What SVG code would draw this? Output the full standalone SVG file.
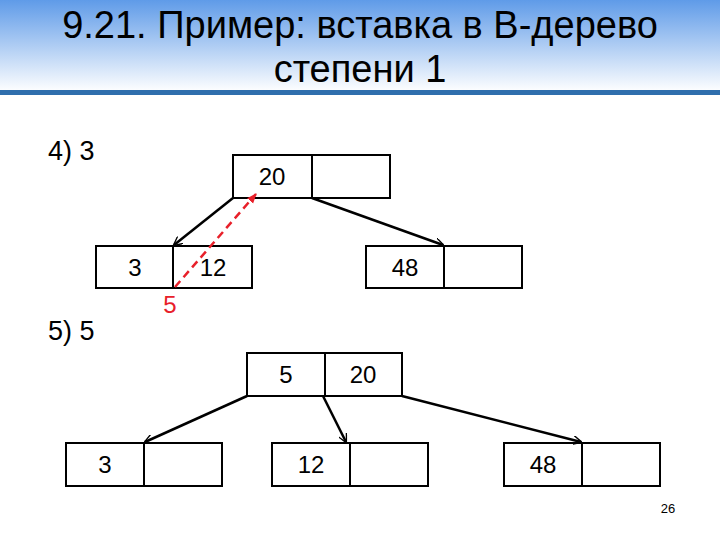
<svg xmlns="http://www.w3.org/2000/svg" width="720" height="540" viewBox="0 0 720 540">
<defs>
<linearGradient id="hg" x1="0" y1="0" x2="0" y2="1"><stop offset="0" stop-color="#5f9be8"/><stop offset="1" stop-color="#ffffff"/></linearGradient>
<marker id="ah" viewBox="0 0 10 10" refX="9" refY="5" markerWidth="9" markerHeight="9" orient="auto" markerUnits="userSpaceOnUse"><path d="M0,0 L10,5 L0,10" fill="none" stroke="#000" stroke-width="1.5"/></marker>
<marker id="rh" viewBox="0 0 10 10" refX="9" refY="5" markerWidth="10" markerHeight="10" orient="auto" markerUnits="userSpaceOnUse"><path d="M0,1 L10,5 L0,9 Z" fill="#e8202a"/></marker>
</defs>
<style>
.n{fill:#fff;stroke:#000;stroke-width:2}
.t{font-family:"Liberation Sans",Arial,sans-serif;font-size:24px;fill:#000;text-anchor:middle}
.e{stroke:#000;stroke-width:2.5;fill:none;marker-end:url(#ah)}
</style>
<rect width="720" height="540" fill="#fff"/>
<rect width="720" height="92" fill="url(#hg)"/>
<rect y="90" width="720" height="5" fill="#2f6fad"/>
<text x="360" y="38" class="t" style="font-size:38px">9.21. Пример: вставка в В-дерево</text>
<text x="360" y="82" class="t" style="font-size:38px">степени 1</text>
<text x="48" y="160" class="t" style="font-size:27px;text-anchor:start">4) 3</text>
<text x="48" y="340" class="t" style="font-size:27px;text-anchor:start">5) 5</text>
<g id="n20"><rect class="n" x="233" y="155" width="157" height="43"/><line x1="312" y1="155" x2="312" y2="198" stroke="#000" stroke-width="2"/><text class="t" x="272" y="185">20</text></g>
<g id="n3_12"><rect class="n" x="96" y="246" width="156" height="42"/><line x1="173" y1="246" x2="173" y2="288" stroke="#000" stroke-width="2"/><text class="t" x="135" y="276">3</text><text class="t" x="213" y="276">12</text></g>
<g id="n48a"><rect class="n" x="366" y="246" width="156" height="42"/><line x1="444" y1="246" x2="444" y2="288" stroke="#000" stroke-width="2"/><text class="t" x="405" y="276">48</text></g>
<g id="n5_20"><rect class="n" x="247" y="353" width="155" height="43"/><line x1="325" y1="353" x2="325" y2="396" stroke="#000" stroke-width="2"/><text class="t" x="286" y="383">5</text><text class="t" x="363" y="383">20</text></g>
<g id="n3"><rect class="n" x="66" y="443" width="156" height="43"/><line x1="144" y1="443" x2="144" y2="486" stroke="#000" stroke-width="2"/><text class="t" x="105" y="473">3</text></g>
<g id="n12"><rect class="n" x="272" y="443" width="156" height="43"/><line x1="350" y1="443" x2="350" y2="486" stroke="#000" stroke-width="2"/><text class="t" x="311" y="473">12</text></g>
<g id="n48"><rect class="n" x="504" y="443" width="156" height="43"/><line x1="582" y1="443" x2="582" y2="486" stroke="#000" stroke-width="2"/><text class="t" x="543" y="473">48</text></g>
<g id="connectors">
<line class="e" x1="233" y1="198" x2="174" y2="245"/>
<line class="e" x1="312" y1="198" x2="443" y2="245"/>
<line x1="175" y1="287" x2="256" y2="194" stroke="#e8202a" stroke-width="2.5" stroke-dasharray="8,5" marker-end="url(#rh)"/>
<line class="e" x1="247" y1="396" x2="145" y2="442"/>
<line class="e" x1="323" y1="396" x2="346" y2="442"/>
<line class="e" x1="402" y1="396" x2="581" y2="442"/>
</g>
<text x="170" y="313" class="t" style="fill:#e8202a">5</text>
<text x="668" y="513" class="t" style="font-size:13px">26</text>
</svg>
